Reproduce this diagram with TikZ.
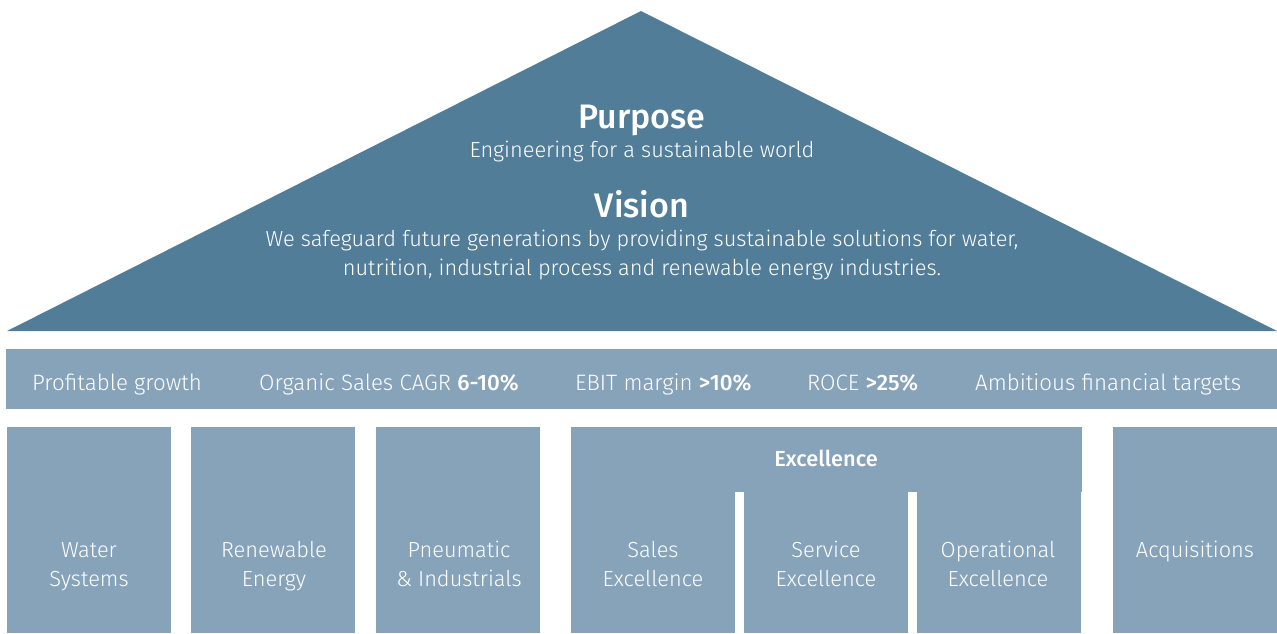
\documentclass[tikz,border=0pt]{standalone}
\usepackage{fontspec}
\setmainfont{Fira Sans}[UprightFont=* Light, BoldFont=* Medium]
\definecolor{darkblue}{HTML}{527D99}
\definecolor{lightblue}{HTML}{87A3BA}
\begin{document}
\begin{tikzpicture}[x=1pt,y=-1pt,
  box/.style={fill=lightblue, draw=none},
  txt/.style={text=white, font=\fontsize{21.8}{29}\selectfont, inner sep=0pt, anchor=base},
  bandtxt/.style={txt, font=\fontsize{22.3}{29}\selectfont, anchor=base west},
  head/.style={text=white, font=\fontsize{34}{36}\selectfont\bfseries, inner sep=0pt, anchor=base}]
\useasboundingbox (0,0) rectangle (1277,633);
% roof
\fill[darkblue] (641,11) -- (1277,331) -- (7,331) -- cycle;
\node[head] (purpose) at (642,128) {Purpose};
\node[txt] (purposetxt) at (642,157) {Engineering for a sustainable world};
\node[head] (vision) at (642,217) {Vision};
\node[txt] (visiontxt1) at (642,246) {We safeguard future generations by providing sustainable solutions for water,};
\node[txt] (visiontxt2) at (642,275) {nutrition, industrial process and renewable energy industries.};
% band
\fill[box] (6,349) rectangle (1277,409);
\node[bandtxt] (b1) at (32,390) {Profitable growth};
\node[bandtxt] (b2) at (259,390) {Organic Sales CAGR \textbf{6-10\%}};
\node[bandtxt] (b3) at (575,390) {EBIT margin \textbf{>10\%}};
\node[bandtxt] (b4) at (807,390) {ROCE \textbf{>25\%}};
\node[bandtxt] (b5) at (975,390) {Ambitious financial targets};
% pillars
\fill[box] (7,427) rectangle (171,633);
\fill[box] (191,427) rectangle (355,633);
\fill[box] (376,427) rectangle (540,633);
\fill[box] (571,427) rectangle (1082,492);
\fill[box] (571,492) rectangle (735,633);
\fill[box] (744,492) rectangle (908,633);
\fill[box] (917,492) rectangle (1081,633);
\fill[box] (1113,427) rectangle (1277,633);
\node[txt] (water1) at (89,557) {Water};
\node[txt] (water2) at (89,586) {Systems};
\node[txt] (renew1) at (274,557) {Renewable};
\node[txt] (renew2) at (274,586) {Energy};
\node[txt] (pneu1) at (459,557) {Pneumatic};
\node[txt] (pneu2) at (459,586) {\& Industrials};
\node[txt, font=\fontsize{21.8}{24}\selectfont\bfseries] (exc) at (826,466) {Excellence};
\node[txt] (sales1) at (653,557) {Sales};
\node[txt] (sales2) at (653,586) {Excellence};
\node[txt] (service1) at (826,557) {Service};
\node[txt] (service2) at (826,586) {Excellence};
\node[txt] (oper1) at (998,557) {Operational};
\node[txt] (oper2) at (998,586) {Excellence};
\node[txt] (acq) at (1195,557) {Acquisitions};
\end{tikzpicture}
\end{document}
